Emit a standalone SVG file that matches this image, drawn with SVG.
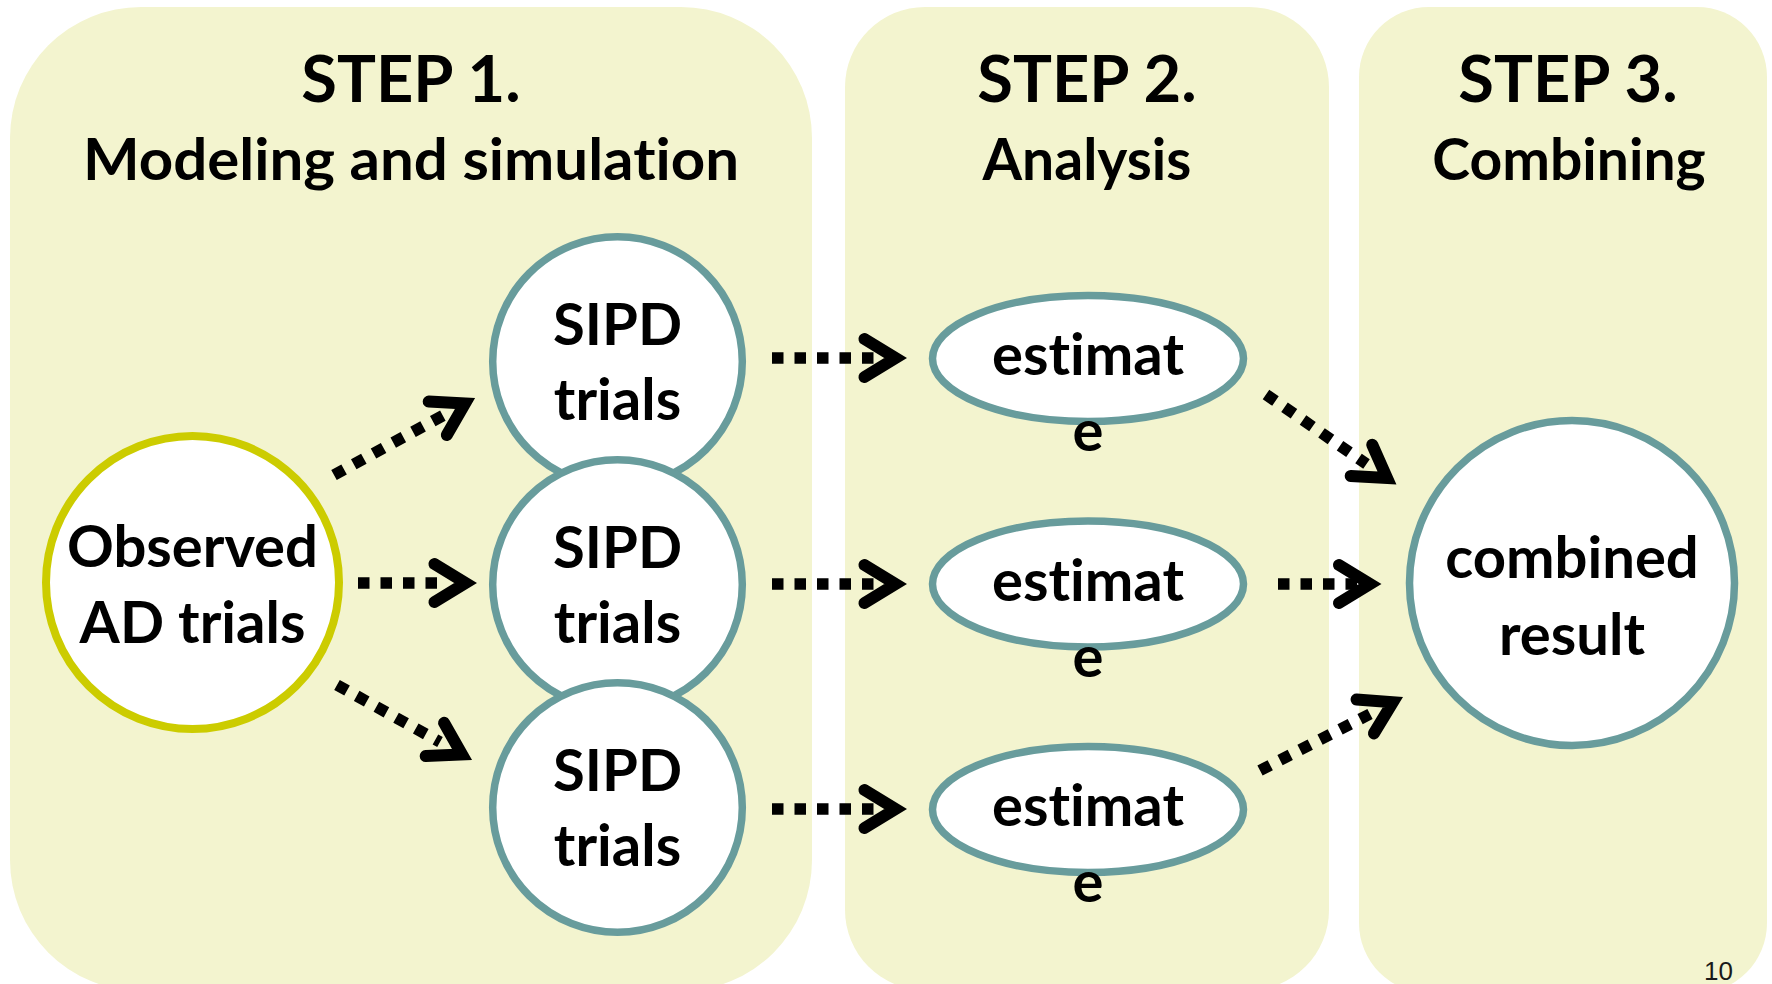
<svg xmlns="http://www.w3.org/2000/svg" xmlns:xlink="http://www.w3.org/1999/xlink" width="1772" height="984" viewBox="0 0 1772 984">
  <defs>
    <style>
      .panel { fill: #f3f4cf; }
      .title { font-family: Lato, "Open Sans", sans-serif; font-weight: 700; fill: #000; text-anchor: middle; font-variant-ligatures: none; font-feature-settings: "liga" 0, "clig" 0; }
      .step { font-size: 65px; }
      .sub { font-size: 57px; }
      .node-shape { fill: #ffffff; stroke: #689c9c; stroke-width: 7.5; }
      .source-shape { fill: #ffffff; stroke: #cccc00; stroke-width: 8; }
      .label { font-family: Lato, "Open Sans", sans-serif; font-weight: 700; font-size: 58px; fill: #000; text-anchor: middle; font-variant-ligatures: none; font-feature-settings: "liga" 0, "clig" 0; }
      .dash { fill: none; stroke: #000; stroke-width: 11.5; stroke-dasharray: 11.5 11; stroke-linecap: butt; }
      .pageno { font-family: "Liberation Sans", Arial, sans-serif; font-size: 26px; fill: #1a1a1a; }
    </style>
    <!-- open chevron arrowhead, vertex at origin, pointing along +x -->
    <path id="chev" d="M-31,-19 L0,0 L-31,19" fill="none" stroke="#000" stroke-width="12" stroke-linecap="round" stroke-linejoin="miter"/>
  </defs>

  <rect width="1772" height="984" fill="#ffffff"/>

  <!-- step panels -->
  <g id="panel-step1">
    <rect class="panel" x="10" y="7" width="802" height="984" rx="131" ry="131"/>
    <text class="title step" x="411" y="102">STEP 1.</text>
    <text class="title sub" x="411" y="180" textLength="656" lengthAdjust="spacingAndGlyphs">Modeling and simulation</text>
  </g>
  <g id="panel-step2">
    <rect class="panel" x="845" y="7" width="484" height="983" rx="80" ry="80"/>
    <text class="title step" x="1087" y="102">STEP 2.</text>
    <text class="title sub" x="1087" y="180">Analysis</text>
  </g>
  <g id="panel-step3">
    <rect class="panel" x="1359" y="7" width="408" height="986" rx="70" ry="70"/>
    <text class="title step" x="1568" y="102">STEP 3.</text>
    <text class="title sub" x="1569" y="180">Combining</text>
  </g>

  <!-- connectors -->
  <g id="connectors">
    <!-- observed -> simulated trials -->
    <line class="dash" x1="334" y1="475" x2="443" y2="415.5"/>
    <use xlink:href="#chev" transform="translate(465,403.5) rotate(-28.5)"/>
    <line class="dash" x1="358" y1="583" x2="438" y2="583"/>
    <use xlink:href="#chev" transform="translate(465.5,583)"/>
    <line class="dash" x1="337" y1="685" x2="440" y2="742"/>
    <use xlink:href="#chev" transform="translate(462,754.5) rotate(29)"/>

    <!-- simulated trials -> estimates -->
    <line class="dash" x1="772" y1="358" x2="876" y2="358"/>
    <use xlink:href="#chev" transform="translate(895.5,358)"/>
    <line class="dash" x1="772" y1="584" x2="876" y2="584"/>
    <use xlink:href="#chev" transform="translate(895.5,584)"/>
    <line class="dash" x1="772" y1="809" x2="876" y2="809"/>
    <use xlink:href="#chev" transform="translate(895.5,809)"/>

    <!-- estimates -> combined result -->
    <line class="dash" x1="1266" y1="394.5" x2="1366.5" y2="464"/>
    <use xlink:href="#chev" transform="translate(1387,478) rotate(34.6)"/>
    <line class="dash" x1="1278" y1="584" x2="1362" y2="584"/>
    <use xlink:href="#chev" transform="translate(1370,584)"/>
    <line class="dash" x1="1260" y1="770.5" x2="1370" y2="714"/>
    <use xlink:href="#chev" transform="translate(1392.8,702.3) rotate(-27.2)"/>
  </g>

  <!-- source node -->
  <g id="node-observed">
    <circle class="source-shape" cx="192.5" cy="582.5" r="146.5"/>
    <text class="label" x="192.5" y="567">Observed</text>
    <text class="label" x="192.5" y="643">AD trials</text>
  </g>

  <!-- simulated trial sets (stacked, each drawn over the previous) -->
  <g id="node-sipd-1">
    <circle class="node-shape" cx="617.5" cy="361.5" r="124.8"/>
    <text class="label" x="617.5" y="345">SIPD</text>
    <text class="label" x="617.5" y="420">trials</text>
  </g>
  <g id="node-sipd-2">
    <circle class="node-shape" cx="617.5" cy="584.5" r="124.8"/>
    <text class="label" x="617.5" y="568">SIPD</text>
    <text class="label" x="617.5" y="643">trials</text>
  </g>
  <g id="node-sipd-3">
    <circle class="node-shape" cx="617.5" cy="807.5" r="124.8"/>
    <text class="label" x="617.5" y="791">SIPD</text>
    <text class="label" x="617.5" y="866">trials</text>
  </g>

  <!-- per-set estimates -->
  <g id="node-estimate-1">
    <ellipse class="node-shape" cx="1088" cy="358.5" rx="155.5" ry="63"/>
    <text class="label" x="1088" y="375">estimat</text>
    <text class="label" x="1088" y="451">e</text>
  </g>
  <g id="node-estimate-2">
    <ellipse class="node-shape" cx="1088" cy="584" rx="155.5" ry="63"/>
    <text class="label" x="1088" y="600.5">estimat</text>
    <text class="label" x="1088" y="676.5">e</text>
  </g>
  <g id="node-estimate-3">
    <ellipse class="node-shape" cx="1088" cy="809.5" rx="155.5" ry="63"/>
    <text class="label" x="1088" y="826">estimat</text>
    <text class="label" x="1088" y="902">e</text>
  </g>

  <!-- pooled result -->
  <g id="node-combined">
    <circle class="node-shape" cx="1572" cy="583" r="162.5"/>
    <text class="label" x="1572" y="578">combined</text>
    <text class="label" x="1572" y="655">result</text>
  </g>

  <text class="pageno" x="1704" y="980">10</text>
</svg>
